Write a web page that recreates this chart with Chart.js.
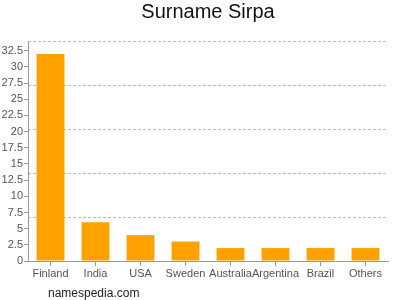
<!DOCTYPE html>
<html>
<head>
<meta charset="utf-8">
<script src="https://cdn.jsdelivr.net/npm/chart.js@4/dist/chart.umd.min.js"></script>
<style>
  html, body { margin: 0; padding: 0; background: #fff; }
  #wrap { position: relative; width: 400px; height: 300px; }
  #footer { position: absolute; left: 48px; top: 286px; font: 12px "Liberation Sans", Arial, sans-serif; color: #222; }
</style>
</head>
<body>
<div id="wrap">
  <canvas id="chart" width="400" height="300"></canvas>
  <div id="footer">namespedia.com</div>
</div>
<script>
const countries = ['Finland', 'India', 'USA', 'Sweden', 'Australia', 'Argentina', 'Brazil', 'Others'];
const counts = [32, 6, 4, 3, 2, 2, 2, 2];
const yTicks = [0, 2.5, 5, 7.5, 10, 12.5, 15, 17.5, 20, 22.5, 25, 27.5, 30, 32.5];
const yMax = 34;

const ctx = document.getElementById('chart');
new Chart(ctx, {
    type: 'bar',
    data: {
        labels: countries,
        datasets: [{
            data: counts,
            backgroundColor: '#ffa200',
            barPercentage: 0.62,
            categoryPercentage: 1,
            yAxisID: 'y'
        }]
    },
    options: {
        responsive: false,
        animation: false,
        layout: { padding: { left: 0, right: 12, bottom: 19 } },
        plugins: {
            legend: { display: false },
            tooltip: { enabled: false },
            title: {
                display: true,
                fullSize: false,
                text: 'Surname Sirpa',
                color: '#111',
                font: { family: 'Liberation Sans', size: 20, weight: 'normal' },
                padding: { top: 0, bottom: 17 }
            }
        },
        scales: {
            x: {
                grid: { display: true, drawOnChartArea: false, offset: false, tickLength: 5, color: '#999' },
                border: { color: '#999' },
                ticks: { color: '#555', font: { family: 'Liberation Sans', size: 11 }, padding: 1, maxRotation: 0, autoSkip: false },
                afterFit: (axis) => { axis.height = 20; }
            },
            y: {
                min: 0,
                max: yMax,
                position: 'left',
                grid: { drawOnChartArea: false, tickLength: 4, color: '#999' },
                border: { color: '#999' },
                ticks: { color: '#555', font: { family: 'Liberation Sans', size: 11 }, padding: 1, autoSkip: false },
                afterBuildTicks: (axis) => { axis.ticks = yTicks.map(v => ({ value: v })); },
                afterFit: (axis) => { axis.width = 28; }
            },
            g: {
                min: 0,
                max: yMax,
                position: 'right',
                grid: { color: '#bbb', drawTicks: false },
                border: { display: false, dash: [3, 2] },
                ticks: { display: false },
                afterBuildTicks: (axis) => {
                    axis.ticks = [1, 2, 3, 4, 5].map(i => ({ value: i * yMax / 5 }));
                },
                afterFit: (axis) => { axis.width = 0; }
            }
        }
    }
});
</script>
</body>
</html>
